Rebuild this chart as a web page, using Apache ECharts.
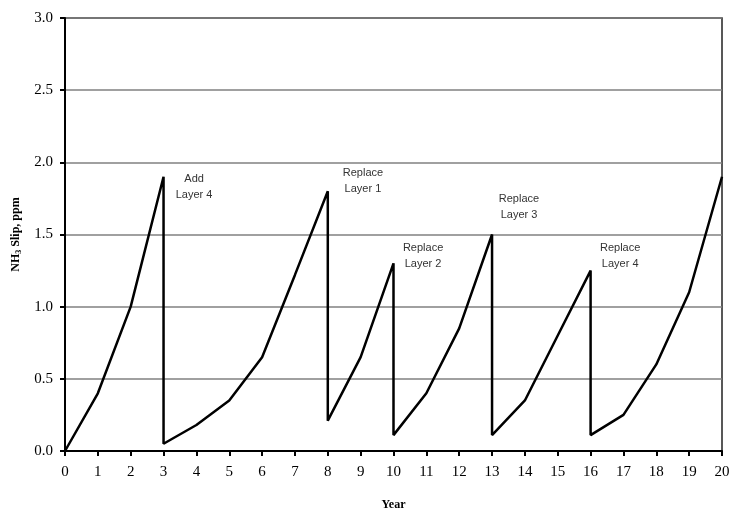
<!DOCTYPE html>
<html>
<head>
<meta charset="utf-8">
<script src="https://cdn.jsdelivr.net/npm/echarts@6/dist/echarts.min.js"></script>
<style>html,body{margin:0;padding:0;background:#fff;}#c{width:730px;height:510px;}</style>
</head>
<body>
<div id="c"></div>
<script>
// Year and NH3 slip (ppm); repeated years mark the catalyst change drops
const years = [0, 1, 2, 3, 3, 4, 5, 6, 7, 8, 8, 9, 10, 10, 11, 12, 13, 13, 14, 15, 16, 16, 17, 18, 19, 20];
const slip  = [0, 0.40, 1.00, 1.90, 0.05, 0.18, 0.35, 0.65, 1.22, 1.80, 0.21, 0.65, 1.30, 0.11, 0.40, 0.85, 1.50, 0.11, 0.35, 0.80, 1.25, 0.11, 0.25, 0.60, 1.10, 1.90];
const noteText = ['Add\nLayer 4', 'Replace\nLayer 1', 'Replace\nLayer 2', 'Replace\nLayer 3', 'Replace\nLayer 4'];
const noteX = [3.93, 9.07, 10.9, 13.82, 16.9];
const noteY = [1.83, 1.87, 1.35, 1.69, 1.35];
const yTicks = ['0.0', '0.5', '1.0', '1.5', '2.0', '2.5', '3.0'];

const chart = echarts.init(document.getElementById('c'));
chart.setOption({
  animation: false,
  backgroundColor: '#fff',
  grid: { left: 65, right: 8, top: 18, bottom: 59, outerBoundsMode: 'none', containLabel: false,
    show: true, borderColor: '#222', borderWidth: 1.5, backgroundColor: 'transparent' },
  xAxis: {
    type: 'value', min: 0, max: 20, interval: 1,
    name: 'Year', nameLocation: 'middle', nameGap: 48,
    nameTextStyle: { fontFamily: 'Liberation Serif', fontWeight: 'bold', fontSize: 12, color: '#000' },
    axisLine: { show: true, onZero: false, lineStyle: { color: '#000', width: 2 } },
    axisTick: { show: true, length: 5, lineStyle: { color: '#000', width: 2 } },
    axisLabel: { margin: 14, fontFamily: 'Liberation Serif', fontSize: 15, color: '#000' },
    splitLine: { show: false }
  },
  yAxis: {
    type: 'value', min: 0, max: 3, interval: 0.5,
    name: 'NH{sub|3} Slip, ppm', nameLocation: 'middle', nameGap: 41,
    nameTextStyle: { fontFamily: 'Liberation Serif', fontWeight: 'bold', fontSize: 12, color: '#000',
      rich: { sub: { fontFamily: 'Liberation Serif', fontWeight: 'bold', fontSize: 8, color: '#000', verticalAlign: 'bottom', padding: [6, 0, 0, 0] } } },
    axisLine: { show: true, lineStyle: { color: '#000', width: 2 } },
    axisTick: { show: true, length: 5, lineStyle: { color: '#000', width: 2 } },
    axisLabel: { margin: 12, fontFamily: 'Liberation Serif', fontSize: 15, color: '#000',
      formatter: function (v) { return yTicks[Math.round(v / 0.5)]; } },
    splitLine: { show: true, lineStyle: { color: '#808080', width: 1.5 } }
  },
  series: [{
    type: 'line',
    data: years.map(function (x, i) { return [x, slip[i]]; }),
    symbol: 'none',
    lineStyle: { color: '#000', width: 2.5 },
    markPoint: {
      symbol: 'circle', symbolSize: 0,
      label: { show: true, position: 'inside', fontFamily: 'Liberation Sans', fontSize: 11, color: '#333', lineHeight: 16, align: 'center',
        formatter: function (p) { return p.name; } },
      data: noteText.map(function (t, i) { return { name: t, coord: [noteX[i], noteY[i]] }; })
    }
  }]
});
</script>
</body>
</html>
